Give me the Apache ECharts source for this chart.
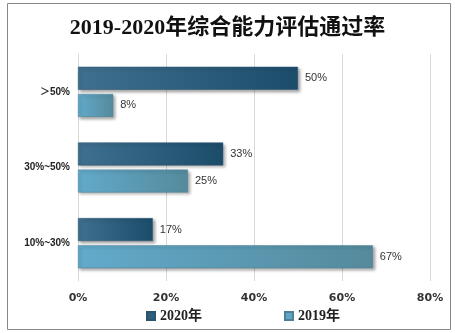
<!DOCTYPE html>
<html><head><meta charset="utf-8">
<script src="https://cdn.jsdelivr.net/npm/echarts@6/dist/echarts.min.js"></script>
<style>html,body{margin:0;padding:0;background:#fff}#c{width:455px;height:333px}</style>
</head><body><div id="c"></div>
<script>
const categories = ['＞50%', '30%~50%', '10%~30%'];
const values2020 = [50, 33, 17];
const values2019 = [8, 25, 67];
const xTicks = [0, 20, 40, 60, 80];

const chart = echarts.init(document.getElementById('c'), null, {renderer: 'canvas'});
function grad(c1, c2) {
  return new echarts.graphic.LinearGradient(0, 0, 1, 0, [{offset: 0, color: c1}, {offset: 1, color: c2}]);
}
const serif = "'Liberation Serif', 'Noto Sans CJK SC', serif";
chart.setOption({
  animation: false,
  title: {
    text: '2019-2020年综合能力评估通过率', left: 'center', top: 12,
    textStyle: {fontFamily: serif, fontSize: 22, fontWeight: 'bold', color: '#111'}
  },
  graphic: [{type: 'rect', shape: {x: 7.5, y: 3.5, width: 443, height: 326}, style: {fill: 'none', stroke: '#888', lineWidth: 1}}],
  legend: {
    bottom: 5, left: 141, itemWidth: 8, itemHeight: 8, itemGap: 82, icon: 'rect',
    textStyle: {fontFamily: serif, fontSize: 14, fontWeight: 'bold', color: '#222'},
    data: [{name: '2020年', itemStyle: {color: '#2f5d7d'}}, {name: '2019年', itemStyle: {color: '#5fa5c4'}}]
  },
  grid: {left: 78, right: 25, top: 54, bottom: 52, containLabel: false},
  xAxis: {
    type: 'value', min: 0, max: 80, interval: 20,
    axisLine: {show: false}, axisTick: {show: false},
    splitLine: {lineStyle: {color: '#d9d9d9'}},
    axisLabel: {formatter: v => xTicks.includes(v) ? v + '%' : '', margin: 12, fontFamily: "'DejaVu Sans', sans-serif", fontSize: 11, fontWeight: 'bold', color: '#333'}
  },
  yAxis: {
    type: 'category', data: categories, inverse: true,
    axisLine: {show: true, lineStyle: {color: '#d9d9d9'}}, axisTick: {show: false},
    axisLabel: {margin: 8, fontFamily: "'Liberation Sans', 'Noto Sans CJK SC', sans-serif", fontSize: 10, fontWeight: 'bold', color: '#222'}
  },
  series: [
    {name: '2020年', type: 'bar', data: values2020, barWidth: 23, barGap: '18%',
     itemStyle: {color: grad('#40708f', '#1b4d6b'), borderColor: '#2a5470', borderWidth: 0.5, shadowColor: 'rgba(0,0,0,0.35)', shadowBlur: 3, shadowOffsetX: 2, shadowOffsetY: 2},
     label: {show: true, position: 'right', distance: 7, formatter: '{c}%', fontFamily: "'Liberation Sans', sans-serif", fontSize: 11, color: '#333'}},
    {name: '2019年', type: 'bar', data: values2019, barWidth: 23,
     itemStyle: {color: grad('#62aacb', '#558a9c'), borderColor: '#4e8196', borderWidth: 0.5, shadowColor: 'rgba(0,0,0,0.35)', shadowBlur: 3, shadowOffsetX: 2, shadowOffsetY: 2},
     label: {show: true, position: 'right', distance: 7, formatter: '{c}%', fontFamily: "'Liberation Sans', sans-serif", fontSize: 11, color: '#333'}}
  ]
});
</script></body></html>
